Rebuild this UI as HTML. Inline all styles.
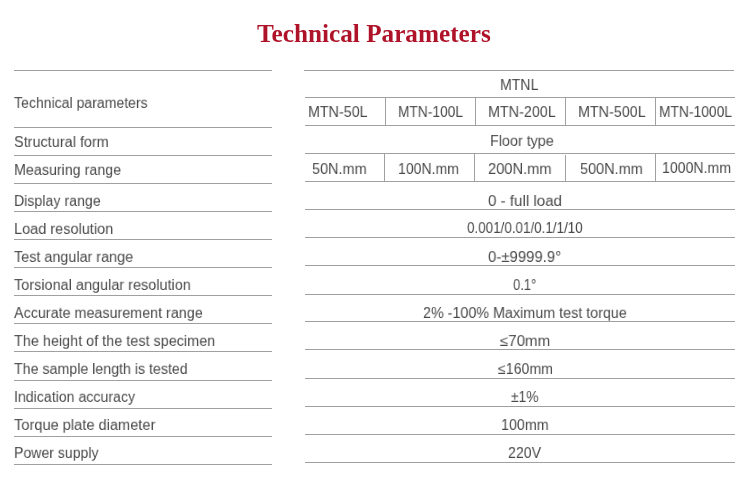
<!DOCTYPE html>
<html><head><meta charset="utf-8"><style>
html,body{margin:0;padding:0;background:#fff;width:750px;height:498px;overflow:hidden;position:relative}
.l{position:absolute}
.t{position:absolute;font-family:"Liberation Sans",sans-serif;font-size:16px;line-height:16px;color:#4a4a4a;white-space:nowrap;transform-origin:0 0;will-change:transform}
h1{position:absolute;margin:0;left:256.5px;white-space:nowrap;font-family:"Liberation Serif",serif;font-weight:bold;font-size:24.5px;line-height:25px;color:#af1329;top:21px;transform:scaleX(1.03);transform-origin:0 0;will-change:transform}
</style></head><body>
<h1>Technical Parameters</h1>
<div class="l" style="left:14px;top:70px;width:258px;height:1px;background:#a0a0a0"></div>
<div class="l" style="left:14px;top:127px;width:258px;height:1px;background:#a0a0a0"></div>
<div class="l" style="left:14px;top:155px;width:258px;height:1px;background:#a0a0a0"></div>
<div class="l" style="left:14px;top:183px;width:258px;height:1px;background:#a0a0a0"></div>
<div class="l" style="left:14px;top:211px;width:258px;height:1px;background:#a0a0a0"></div>
<div class="l" style="left:14px;top:239px;width:258px;height:1px;background:#a0a0a0"></div>
<div class="l" style="left:14px;top:267px;width:258px;height:1px;background:#a0a0a0"></div>
<div class="l" style="left:14px;top:295px;width:258px;height:1px;background:#a0a0a0"></div>
<div class="l" style="left:14px;top:323px;width:258px;height:1px;background:#a0a0a0"></div>
<div class="l" style="left:14px;top:351px;width:258px;height:1px;background:#a0a0a0"></div>
<div class="l" style="left:14px;top:380px;width:258px;height:1px;background:#a0a0a0"></div>
<div class="l" style="left:14px;top:408px;width:258px;height:1px;background:#a0a0a0"></div>
<div class="l" style="left:14px;top:436px;width:258px;height:1px;background:#a0a0a0"></div>
<div class="l" style="left:14px;top:464px;width:258px;height:1px;background:#a0a0a0"></div>
<div class="l" style="left:304px;top:70px;width:430px;height:1px;background:#a0a0a0"></div>
<div class="l" style="left:305px;top:97px;width:430px;height:1px;background:#a0a0a0"></div>
<div class="l" style="left:305px;top:125px;width:430px;height:1px;background:#a0a0a0"></div>
<div class="l" style="left:305px;top:153px;width:430px;height:1px;background:#a0a0a0"></div>
<div class="l" style="left:305px;top:181px;width:430px;height:1px;background:#a0a0a0"></div>
<div class="l" style="left:305px;top:209px;width:430px;height:1px;background:#a0a0a0"></div>
<div class="l" style="left:305px;top:237px;width:430px;height:1px;background:#a0a0a0"></div>
<div class="l" style="left:305px;top:265px;width:430px;height:1px;background:#a0a0a0"></div>
<div class="l" style="left:305px;top:294px;width:430px;height:1px;background:#a0a0a0"></div>
<div class="l" style="left:305px;top:321px;width:430px;height:1px;background:#a0a0a0"></div>
<div class="l" style="left:305px;top:349px;width:430px;height:1px;background:#a0a0a0"></div>
<div class="l" style="left:305px;top:378px;width:430px;height:1px;background:#a0a0a0"></div>
<div class="l" style="left:305px;top:406px;width:430px;height:1px;background:#a0a0a0"></div>
<div class="l" style="left:305px;top:434px;width:430px;height:1px;background:#a0a0a0"></div>
<div class="l" style="left:305px;top:462px;width:430px;height:1px;background:#a0a0a0"></div>
<div class="l" style="left:385px;top:97px;width:1px;height:28px;background:#a0a0a0"></div>
<div class="l" style="left:475px;top:97px;width:1px;height:28px;background:#a0a0a0"></div>
<div class="l" style="left:565px;top:97px;width:1px;height:28px;background:#a0a0a0"></div>
<div class="l" style="left:655px;top:97px;width:1px;height:28px;background:#a0a0a0"></div>
<div class="l" style="left:384px;top:153px;width:1px;height:28px;background:#a0a0a0"></div>
<div class="l" style="left:474px;top:153px;width:1px;height:28px;background:#a0a0a0"></div>
<div class="l" style="left:655px;top:153px;width:1px;height:28px;background:#a0a0a0"></div>
<div class="l" style="left:565px;top:155px;width:1px;height:26px;background:#a0a0a0"></div>
<div class="t" style="left:14px;top:96px;transform:scale(0.8789,0.92)">Technical parameters</div>
<div class="t" style="left:14px;top:135px;transform:scale(0.9038,0.92)">Structural form</div>
<div class="t" style="left:14px;top:163px;transform:scale(0.8917,0.92)">Measuring range</div>
<div class="t" style="left:14px;top:194px;transform:scale(0.8856,0.92)">Display range</div>
<div class="t" style="left:14px;top:222px;transform:scale(0.9074,0.92)">Load resolution</div>
<div class="t" style="left:14px;top:250px;transform:scale(0.8985,0.92)">Test angular range</div>
<div class="t" style="left:14px;top:278px;transform:scale(0.9036,0.92)">Torsional angular resolution</div>
<div class="t" style="left:14px;top:306px;transform:scale(0.8952,0.92)">Accurate measurement range</div>
<div class="t" style="left:14px;top:334px;transform:scale(0.9014,0.92)">The height of the test specimen</div>
<div class="t" style="left:14px;top:362px;transform:scale(0.8877,0.92)">The sample length is tested</div>
<div class="t" style="left:14px;top:390px;transform:scale(0.8839,0.92)">Indication accuracy</div>
<div class="t" style="left:14px;top:418px;transform:scale(0.9135,0.92)">Torque plate diameter</div>
<div class="t" style="left:14px;top:446px;transform:scale(0.8802,0.92)">Power supply</div>
<div class="t" style="left:499.72px;top:78px;transform:scale(0.8810,0.92)">MTNL</div>
<div class="t" style="left:307.71px;top:105px;transform:scale(0.8923,0.92)">MTN-50L</div>
<div class="t" style="left:397.84px;top:105px;transform:scale(0.8595,0.92)">MTN-100L</div>
<div class="t" style="left:487.60px;top:105px;transform:scale(0.8959,0.92)">MTN-200L</div>
<div class="t" style="left:577.81px;top:105px;transform:scale(0.8946,0.92)">MTN-500L</div>
<div class="t" style="left:659.44px;top:105px;transform:scale(0.8639,0.92)">MTN-1000L</div>
<div class="t" style="left:490.00px;top:134px;transform:scale(0.8957,0.92)">Floor type</div>
<div class="t" style="left:311.80px;top:162px;transform:scale(0.9034,0.92)">50N.mm</div>
<div class="t" style="left:398.32px;top:162px;transform:scale(0.8776,0.92)">100N.mm</div>
<div class="t" style="left:488.28px;top:162px;transform:scale(0.9164,0.92)">200N.mm</div>
<div class="t" style="left:579.70px;top:162px;transform:scale(0.9045,0.92)">500N.mm</div>
<div class="t" style="left:662.12px;top:161px;transform:scale(0.8816,0.92)">1000N.mm</div>
<div class="t" style="left:487.65px;top:194px;transform:scale(0.9461,0.92)">0 - full load</div>
<div class="t" style="left:466.86px;top:221px;transform:scale(0.8390,0.92)">0.001/0.01/0.1/1/10</div>
<div class="t" style="left:487.67px;top:250px;transform:scale(0.9338,0.92)">0-±9999.9°</div>
<div class="t" style="left:512.79px;top:278px;transform:scale(0.8111,0.92)">0.1°</div>
<div class="t" style="left:422.90px;top:306px;transform:scale(0.8951,0.92)">2% -100% Maximum test torque</div>
<div class="t" style="left:500.40px;top:334px;transform:scale(0.9404,0.92)">≤70mm</div>
<div class="t" style="left:498.00px;top:362px;transform:scale(0.8852,0.92)">≤160mm</div>
<div class="t" style="left:511.30px;top:390px;transform:scale(0.8613,0.92)">±1%</div>
<div class="t" style="left:500.91px;top:418px;transform:scale(0.8922,0.92)">100mm</div>
<div class="t" style="left:507.62px;top:446px;transform:scale(0.8833,0.92)">220V</div>
</body></html>
